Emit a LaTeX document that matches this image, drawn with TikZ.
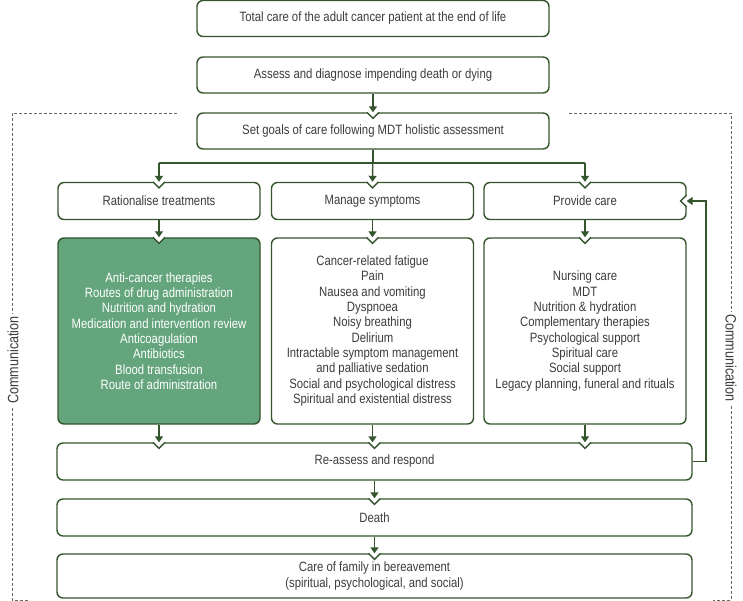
\documentclass[tikz,border=0pt]{standalone}
\usepackage{fontspec}
\setmainfont{Liberation Sans}[FakeStretch=0.84]
\usetikzlibrary{arrows.meta}

\definecolor{boxline}{HTML}{35552D}
\definecolor{boxfill}{HTML}{64A57D}
\definecolor{txt}{HTML}{3C3C3C}
\definecolor{commline}{HTML}{5F6F5A}

\tikzset{
  box/.style={draw=boxline, line width=1.4pt, rounded corners=6pt, fill=white, text=txt,
    align=center, inner sep=0pt, font=\fontsize{13.5}{15.3}\selectfont},
  wide/.style={box, minimum width=352pt, minimum height=36pt},
  col/.style={box, minimum width=202pt, minimum height=37pt},
  list/.style={box, minimum width=202pt, minimum height=186pt},
  long/.style={box, minimum width=635pt, minimum height=37pt},
  link/.style={draw=boxline, line width=1.4pt},
  arr/.style={link, -{Triangle[width=8pt,length=6pt]}},
  comm/.style={draw=commline, line width=0.8pt, dash pattern=on 3pt off 2pt},
  commtext/.style={fill=white, text=txt, inner sep=2pt, font=\fontsize{15}{16}\selectfont},
}

\newcommand{\notchtop}[1]{%
  \begin{scope}[shift={(#1)}]
    \fill[white] (-6,-1.2) -- (6,-1.2) -- (6,0) -- (0,6) -- (-6,0) -- cycle;
    \draw[link] (-6,0) -- (0,6) -- (6,0);
  \end{scope}}
\newcommand{\notchright}[1]{%
  \begin{scope}[shift={(#1)}]
    \fill[white] (1.2,-6) -- (1.2,6) -- (0,6) -- (-6,0) -- (0,-6) -- cycle;
    \draw[link] (0,-6) -- (-6,0) -- (0,6);
  \end{scope}}

\begin{document}
\begin{tikzpicture}[x=1pt,y=-1pt]
\useasboundingbox (0,0) rectangle (743,601);

\coordinate (f1) at (177,113);
\coordinate (f2) at (12,113);
\coordinate (f3) at (12,600);
\coordinate (f4) at (30,600);
\coordinate (f5) at (569,113);
\coordinate (f6) at (731,113);
\coordinate (f7) at (731,600);
\coordinate (f8) at (713,600);
\draw[comm] (f1) -- (f2) -- (f3) -- (f4);
\draw[comm] (f5) -- (f6) -- (f7) -- (f8);
\node[commtext, rotate=90] (c1) at (13,360) {Communication};
\node[commtext, rotate=-90] (c2) at (731,358) {Communication};

\node[wide] (v1) at (373,18.5) {Total care of the adult cancer patient at the end of life};
\node[wide] (v2) at (373,75) {Assess and diagnose impending death or dying};
\node[wide] (v3) at (373,131) {Set goals of care following MDT holistic assessment};

\node[col] (v4) at (159,201) {Rationalise treatments};
\node[col] (v5) at (372.5,201) {Manage symptoms};
\node[col] (v6) at (585,201) {Provide care};

\node[list, fill=boxfill, text=white] (v7) at (159,331) {Anti-cancer therapies\\Routes of drug administration\\Nutrition and hydration\\Medication and intervention review\\Anticoagulation\\Antibiotics\\Blood transfusion\\Route of administration};
\node[list] (v8) at (372.5,331) {Cancer-related fatigue\\Pain\\Nausea and vomiting\\Dyspnoea\\Noisy breathing\\Delirium\\Intractable symptom management\\and palliative sedation\\Social and psychological distress\\Spiritual and existential distress};
\node[list] (v9) at (585,331) {Nursing care\\MDT\\Nutrition \& hydration\\Complementary therapies\\Psychological support\\Spiritual care\\Social support\\Legacy planning, funeral and rituals};

\node[long] (v10) at (374.5,461.5) {Re-assess and respond};
\node[long] (v11) at (374.5,517.5) {Death};
\node[long, minimum height=44pt] (v12) at (374.5,576) {Care of family in bereavement\\(spiritual, psychological, and social)};

\notchtop{v3.north}
\notchtop{v4.north}
\notchtop{v5.north}
\notchtop{v6.north}
\notchtop{v7.north}
\notchtop{v8.north}
\notchtop{v9.north}
\notchtop{v4.north |- v10.north}
\notchtop{v10.north}
\notchtop{v6.north |- v10.north}
\notchtop{v11.north}
\notchtop{v12.north}
\notchright{v6.east}

\coordinate (j1) at (373,163);
\coordinate (j2) at (159,163);
\coordinate (j3) at (585,163);
\coordinate (j4) at (706,461.5);
\coordinate (j5) at (706,201);

\draw[arr] (v2) -- (v3);
\draw[link] (v3) -- (j1);
\draw[link] (j2) -- (j3);
\draw[arr] (j2) -- (v4);
\draw[arr] (v3.south) -- (v5.north);
\draw[arr] (j3) -- (v6);
\draw[arr] (v4) -- (v7);
\draw[arr] (v5) -- (v8);
\draw[arr] (v6) -- (v9);
\draw[arr] (v7.south) -- (v7.south |- v10.north);
\draw[arr] (v8.south) -- (v8.south |- v10.north);
\draw[arr] (v9.south) -- (v9.south |- v10.north);
\draw[arr] (v10.east) -- (j4) -- (j5) -- (v6.east);
\draw[arr] (v10.south) -- (v11.north);
\draw[arr] (v11.south) -- (v12.north);
\end{tikzpicture}
\end{document}
